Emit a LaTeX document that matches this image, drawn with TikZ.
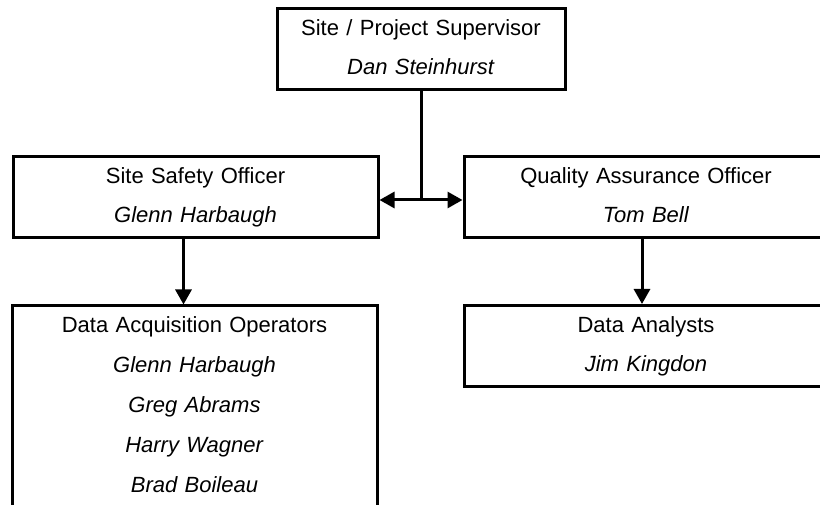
\documentclass[tikz,border=0pt]{standalone}
\usepackage{fontspec}
\setmainfont{Liberation Sans}
\usetikzlibrary{arrows.meta}
\newcommand\ls{\rule[-15pt]{0pt}{42pt}}
\newcommand\boxfont{\fontsize{22}{39}\selectfont\lineskiplimit=-100pt\parindent=0pt\relax}
\newcommand\boxfontwide{\fontsize{22}{40}\selectfont\lineskiplimit=-100pt\parindent=0pt\relax}
\tikzset{
  orgbox/.style={draw, line width=3pt, fill=white, inner sep=0pt, align=center, font=\boxfont},
  arr/.style={line width=3pt, -{Triangle[length=15pt,width=16pt]}},
  conn/.style={line width=3pt}
}
\begin{document}
\begin{tikzpicture}[x=1pt,y=-1pt]
\path[use as bounding box] (0,0) rectangle (820,505);
\clip (0,0) rectangle (820,505);
\fill[white] (0,0) rectangle (820,505);

\node[orgbox, text width=288pt] (sup) at (421,49.5)
  {\ls Site / Project Supervisor\\\ls\textit{Dan Steinhurst}};
\node[orgbox, text width=365pt] (sso) at (195.5,197)
  {\ls Site Safety Officer\\\ls\textit{Glenn Harbaugh}};
\node[orgbox, text width=364pt] (qa) at (646,197)
  {\ls Quality Assurance Officer\\\ls\textit{Tom Bell}};
\node[orgbox, text width=364pt] (da) at (646,346)
  {\ls Data Analysts\\\ls\textit{Jim Kingdon}};
\node[orgbox, font=\boxfontwide, text width=365pt] (dao) at (194.5,407)
  {\ls Data Acquisition Operators\\\ls\textit{Glenn Harbaugh}\\\ls\textit{Greg Abrams}\\\ls\textit{Harry Wagner}\\\ls\textit{Brad Boileau}};

\coordinate (J) at (421,200);
\draw[conn] (sup.south) -- (J);
\draw[arr] (J) -- (J -| sso.east);
\draw[arr] (J) -- (J -| qa.west);
\draw[arr] ([xshift=-12pt]sso.south) -- ([xshift=-12pt]sso.south |- dao.north);
\draw[arr] ([xshift=-4pt]qa.south) -- ([xshift=-4pt]qa.south |- da.north);
\end{tikzpicture}
\end{document}
